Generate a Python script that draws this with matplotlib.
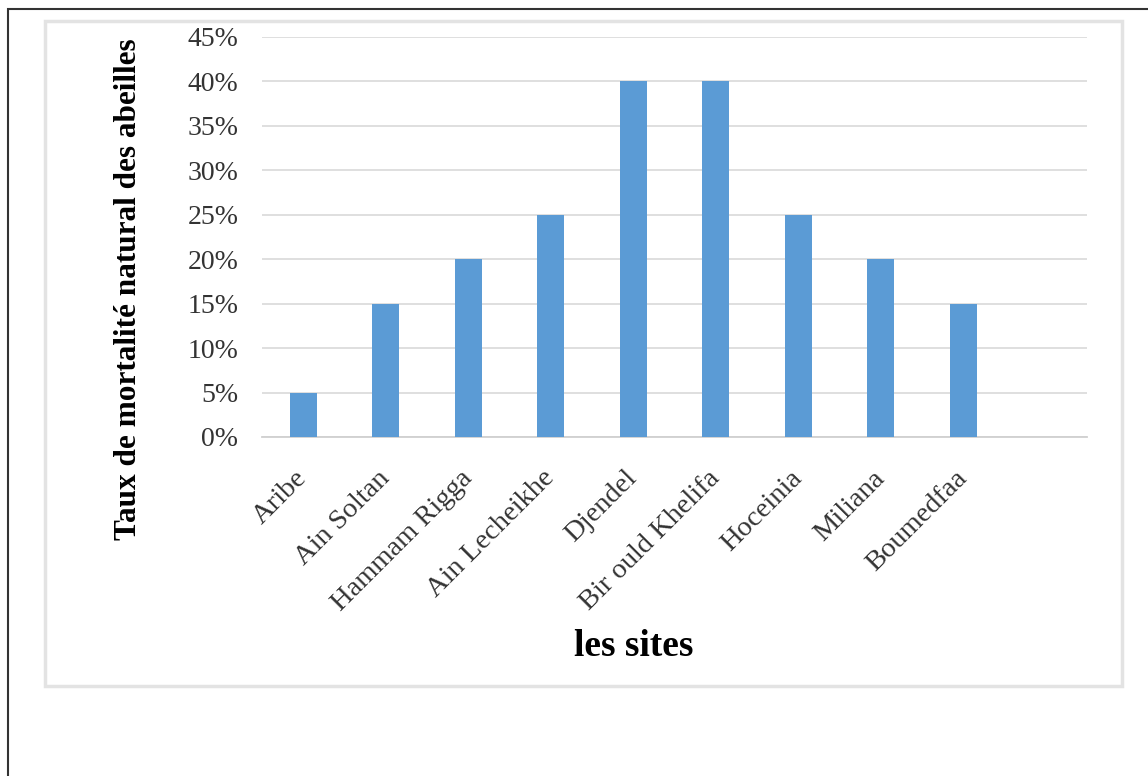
import matplotlib.pyplot as plt
from matplotlib.patches import Rectangle
from matplotlib.ticker import PercentFormatter

sites = ['Aribe', 'Ain Soltan', 'Hammam Rigga', 'Ain Lecheikhe', 'Djendel',
         'Bir ould Khelifa', 'Hoceinia', 'Miliana', 'Boumedfaa']
mortalite = [0.05, 0.15, 0.20, 0.25, 0.40, 0.40, 0.25, 0.20, 0.15]
yticks = [0, 0.05, 0.10, 0.15, 0.20, 0.25, 0.30, 0.35, 0.40, 0.45]

plt.rcParams['font.family'] = ['Liberation Serif', 'DejaVu Serif']

W, H = 1148, 776
fig = plt.figure(figsize=(W / 100, H / 100), dpi=100)

# outer frame (cut off on right and bottom)
fig.patches.append(Rectangle((8 / W, -0.1), 1.2, 1 - 9 / H + 0.1, transform=fig.transFigure,
                             fill=False, edgecolor='#333333', lw=1.5, zorder=0))
# chart area border
fig.patches.append(Rectangle((45 / W, 1 - 686 / H), (1122 - 45) / W, (686 - 21) / H,
                             transform=fig.transFigure, facecolor='white',
                             edgecolor='#e3e3e3', lw=2.5, zorder=0))

ax = fig.add_axes([262 / W, 1 - 437 / H, (1087 - 262) / W, 400 / H])
ax.set_zorder(2)
ax.patch.set_alpha(0)
ax.bar(range(len(sites)), mortalite, width=0.33, color='#5b9bd5', zorder=3)

ax.set_xlim(-0.5, 9.5)
ax.set_ylim(0, 0.45)
ax.set_yticks(yticks)
ax.yaxis.set_major_formatter(PercentFormatter(1.0, decimals=0))
ax.set_xticks(range(len(sites)))
ax.set_xticklabels(sites, rotation=45, ha='right', va='center', rotation_mode='anchor')

ax.grid(axis='y', color='#dcdcdc', lw=1.3, zorder=0)
for s in ['top', 'right', 'left']:
    ax.spines[s].set_visible(False)
ax.spines['bottom'].set_color('#d0d0d0')
ax.spines['bottom'].set_linewidth(1.3)
ax.tick_params(axis='y', length=0, pad=17, labelsize=20, labelcolor='#333333')
ax.tick_params(axis='x', length=0, pad=27, labelsize=20.5, labelcolor='#333333')

fig.text(129 / W, 1 - 289 / H, 'Taux de mortalité natural des abeilles', rotation=90,
         ha='center', va='center', fontsize=22.5, fontweight='bold', zorder=3)
fig.text(634 / W, 1 - 647 / H, 'les sites', ha='center', va='center',
         fontsize=27, fontweight='bold', zorder=3)

fig.savefig('out.png', dpi=100)
